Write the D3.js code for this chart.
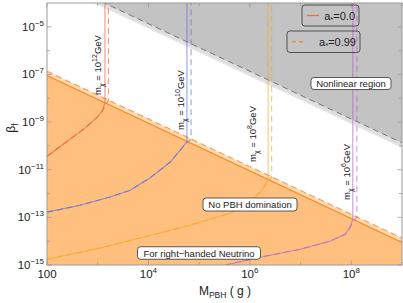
<!DOCTYPE html>
<html>
<head>
<meta charset="utf-8">
<script src="https://cdn.jsdelivr.net/npm/d3@7"></script>
<style>
body { margin: 0; background: #fff; }
svg { display: block; font-family: "Liberation Sans", Arial, sans-serif; }
</style>
</head>
<body>
<script>
// axis ticks
const xTicks = [1e2, 1e3, 1e4, 1e5, 1e6, 1e7, 1e8, 1e9];
const xTickLabels = ["100", "", "4", "", "6", "", "8", ""];
const yTicks = [1e-15, 1e-14, 1e-13, 1e-12, 1e-11, 1e-10, 1e-9, 1e-8, 1e-7, 1e-6, 1e-5];
const yTickLabels = ["-15", "", "-13", "", "-11", "", "-9", "", "-7", "", "-5"];

// region boundaries, a*=0 (solid) and a*=0.99 (dashed)
const noDomSolid = [[1e2, 8.9e-8], [1e9, 8.9e-15]];
const noDomDashed = [[1e2, 1.35e-7], [1e9, 1.35e-14]];
const nonlinSolid = [[1e2, 8.9e-4], [1e9, 8.9e-11]];
const nonlinDashed = [[1e2, 1.35e-3], [1e9, 1.35e-10]];

// m_chi curves
const mxNames = ["12", "10", "8", "6"];
const mx12Solid = [[100, 3.7e-11], [145, 6.6e-11], [562, 5.6e-10], [977, 1.6e-9], [1230, 2.9e-9], [1390, 6.5e-9], [1390, 1e-4]];
const mx12Dashed = [[100, 3.7e-11], [145, 6.6e-11], [562, 5.6e-10], [977, 1.6e-9], [1230, 2.9e-9], [1620, 8.3e-9], [1620, 1e-4]];
const mx10Solid = [[100, 1.66e-13], [447, 3.2e-13], [1740, 7.1e-13], [4370, 1.38e-12], [10700, 4.5e-12], [26900, 2.1e-11], [45700, 8.1e-11], [57500, 1.55e-10], [57500, 1e-4]];
const mx10Dashed = [[100, 1.66e-13], [447, 3.2e-13], [1740, 7.1e-13], [4370, 1.38e-12], [10700, 4.5e-12], [26900, 2.1e-11], [45700, 8.1e-11], [69200, 1.95e-10], [69200, 1e-4]];
const mx8Solid = [[100, 1.74e-15], [1110, 5.1e-15], [6820, 1.35e-14], [66100, 4.7e-14], [4.07e5, 1.5e-13], [1e6, 4.4e-13], [1.74e6, 1.38e-12], [2.29e6, 3.9e-12], [2.29e6, 1e-4]];
const mx8Dashed = [[100, 1.74e-15], [1110, 5.1e-15], [6820, 1.35e-14], [66100, 4.7e-14], [4.07e5, 1.5e-13], [1e6, 4.4e-13], [1.74e6, 1.38e-12], [2.69e6, 5.0e-12], [2.69e6, 1e-4]];
const mx6Solid = [[3.3e5, 1e-15], [1.58e6, 2.1e-15], [9.8e6, 4.6e-15], [3.8e7, 1e-14], [7.6e7, 1.95e-14], [9.5e7, 3.9e-14], [1.07e8, 8.3e-14], [1.07e8, 1e-4]];
const mx6Dashed = [[3.3e5, 1e-15], [1.58e6, 2.1e-15], [9.8e6, 4.6e-15], [3.8e7, 1e-14], [7.6e7, 1.95e-14], [9.5e7, 3.9e-14], [1.29e8, 1.05e-13], [1.29e8, 1e-4]];

const W = 403, H = 303;
const L = 47, R = 402, T = 3, B = 265;

const svg = d3.select("body").append("svg").attr("width", W).attr("height", H);

const x = d3.scaleLog().domain([1e2, 1e9]).range([L, R]);
const y = d3.scaleLog().domain([1e-15, 1e-4]).range([B, T]);

svg.append("clipPath").attr("id", "plot")
    .append("rect").attr("x", L).attr("y", T).attr("width", R - L).attr("height", B - T);

const g = svg.append("g").attr("clip-path", "url(#plot)");

const line = d3.line().x(d => x(d[0])).y(d => y(d[1]));
const below = d3.area().x(d => x(d[0])).y0(B + 10).y1(d => y(d[1]));
const above = d3.area().x(d => x(d[0])).y0(T - 10).y1(d => y(d[1]));

// filled regions (two translucent layers each)
[noDomSolid, noDomDashed].forEach(d => {
    g.append("path").attr("d", below(d)).attr("fill", "rgb(255,128,0)").attr("fill-opacity", 0.293);
});
[nonlinSolid, nonlinDashed].forEach(d => {
    g.append("path").attr("d", above(d)).attr("fill", "#000").attr("fill-opacity", 0.125);
});

// boundary lines
g.append("path").attr("d", line(noDomSolid)).attr("fill", "none").attr("stroke", "#ff8a1e").attr("stroke-width", 1.2);
g.append("path").attr("d", line(noDomDashed)).attr("fill", "none").attr("stroke", "#f9a25a").attr("stroke-width", 1.2).attr("stroke-dasharray", "6,4");
g.append("path").attr("d", line(nonlinSolid)).attr("fill", "none").attr("stroke", "#e6e6e6").attr("stroke-width", 1.2);
g.append("path").attr("d", line(nonlinDashed)).attr("fill", "none").attr("stroke", "#777").attr("stroke-width", 1).attr("stroke-dasharray", "6,4");

// m_chi curves
const mxColors = ["#e8582a", "#5a6ed8", "#f5a623", "#b060d0"];
const mxSolid = [mx12Solid, mx10Solid, mx8Solid, mx6Solid];
const mxDashed = [mx12Dashed, mx10Dashed, mx8Dashed, mx6Dashed];
mxSolid.forEach((d, i) => {
    g.append("path").attr("d", line(d)).attr("fill", "none")
        .attr("stroke", mxColors[i]).attr("stroke-width", 1.1).attr("stroke-opacity", 0.62);
    g.append("path").attr("d", line(mxDashed[i])).attr("fill", "none")
        .attr("stroke", mxColors[i]).attr("stroke-width", 1.1).attr("stroke-opacity", 0.62)
        .attr("stroke-dasharray", "6,4");
});

// frame and ticks
svg.append("rect").attr("x", L).attr("y", T).attr("width", R - L).attr("height", B - T)
    .attr("fill", "none").attr("stroke", "#9a9a9a").attr("stroke-width", 1);

const ax = svg.append("g").attr("stroke", "#9a9a9a").attr("stroke-width", 0.8);
xTicks.forEach((t, i) => {
    const len = xTickLabels[i] ? 4.5 : 3;
    ax.append("line").attr("x1", x(t)).attr("x2", x(t)).attr("y1", B).attr("y2", B - len);
    ax.append("line").attr("x1", x(t)).attr("x2", x(t)).attr("y1", T).attr("y2", T + len);
});
yTicks.forEach((t, i) => {
    const len = yTickLabels[i] ? 4.5 : 3;
    ax.append("line").attr("y1", y(t)).attr("y2", y(t)).attr("x1", L).attr("x2", L + len);
    ax.append("line").attr("y1", y(t)).attr("y2", y(t)).attr("x1", R).attr("x2", R - len);
});

const tl = svg.append("g").attr("font-size", 11.5).attr("fill", "#222");
xTicks.forEach((t, i) => {
    const lab = xTickLabels[i];
    if (!lab) return;
    const tx = tl.append("text").attr("x", x(t)).attr("y", B + 13).attr("text-anchor", "middle");
    if (lab === "100") tx.text("100");
    else {
        tx.append("tspan").text("10");
        tx.append("tspan").attr("font-size", 8).attr("dy", -5).text(lab);
    }
});
yTicks.forEach((t, i) => {
    const lab = yTickLabels[i];
    if (!lab) return;
    const tx = tl.append("text").attr("x", L - 3).attr("y", y(t) + 4).attr("text-anchor", "end");
    tx.append("tspan").text("10");
    tx.append("tspan").attr("font-size", 8).attr("dy", -5).text(lab.replace("-", "\u2212"));
});

// axis titles
const xt = svg.append("text").attr("x", 225).attr("y", 295).attr("text-anchor", "middle")
    .attr("font-size", 12).attr("fill", "#222");
xt.append("tspan").text("M");
xt.append("tspan").attr("font-size", 8.5).attr("dy", 3).text("PBH");
xt.append("tspan").attr("dy", -3).text(" ( g )");

const yt = svg.append("text").attr("transform", "translate(15,128) rotate(-90)")
    .attr("text-anchor", "middle").attr("font-size", 12).attr("fill", "#222");
yt.append("tspan").text("\u03b2");
yt.append("tspan").attr("font-size", 8.5).attr("dy", 3).text("f");

// m_chi labels
const mxLabelPos = [[98, 65], [181, 100], [253, 134], [347, 172]];
mxNames.forEach((n, i) => {
    const p = mxLabelPos[i];
    const t = svg.append("text").attr("transform", `translate(${p[0] + 3},${p[1]}) rotate(-90)`)
        .attr("text-anchor", "middle").attr("font-size", 9.5).attr("fill", "#222");
    t.append("tspan").text("m");
    t.append("tspan").attr("font-size", 7).attr("dy", 2.5).text("\u03c7");
    t.append("tspan").attr("dy", -2.5).text(" = 10");
    t.append("tspan").attr("font-size", 7).attr("dy", -4).text(n);
    t.append("tspan").attr("dy", 4).text("GeV");
});

// boxed region labels
function boxLabel(cx, cy, w, h, txt) {
    svg.append("rect").attr("x", cx - w / 2).attr("y", cy - h / 2).attr("width", w).attr("height", h)
        .attr("rx", 3).attr("fill", "#fff").attr("stroke", "#333").attr("stroke-width", 0.8);
    svg.append("text").attr("x", cx).attr("y", cy + 3.5).attr("text-anchor", "middle")
        .attr("font-size", 9.5).attr("fill", "#222").text(txt);
}
boxLabel(351, 83.5, 80, 12, "Nonlinear region");
boxLabel(250, 204.5, 94, 13, "No PBH domination");
boxLabel(199, 253, 123, 12.5, "For right\u2212handed Neutrino");

// legend
const legend = [["0.0", null, 302, 5, 57, 21], ["0.99", "4,3", 287, 31, 73, 21.5]];
legend.forEach(d => {
    svg.append("rect").attr("x", d[2]).attr("y", d[3]).attr("width", d[4]).attr("height", d[5])
        .attr("rx", 3).attr("fill", "none").attr("stroke", "#444").attr("stroke-width", 0.9);
    const ly = d[3] + d[5] / 2;
    svg.append("line").attr("x1", d[2] + 5).attr("x2", d[2] + 17).attr("y1", ly).attr("y2", ly)
        .attr("stroke", d[1] ? "#ea8a48" : "#e8703a").attr("stroke-width", 1.3)
        .attr("stroke-dasharray", d[1]);
    const t = svg.append("text").attr("x", d[2] + d[4] - 4).attr("y", ly + 4)
        .attr("text-anchor", "end").attr("font-size", 11).attr("fill", "#222");
    t.append("tspan").text("a");
    t.append("tspan").attr("font-size", 7.5).attr("dy", 2).text("*");
    t.append("tspan").attr("dy", -2).text("=" + d[0]);
});
</script>
</body>
</html>
